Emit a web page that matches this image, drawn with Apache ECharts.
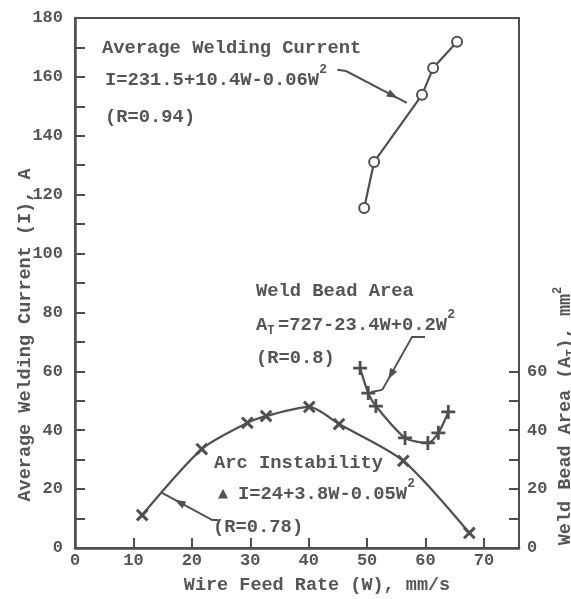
<!DOCTYPE html>
<html><head><meta charset="utf-8">
<script src="https://cdn.jsdelivr.net/npm/echarts@6/dist/echarts.min.js"></script>
<style>html,body{margin:0;padding:0;background:#fff}#c{width:571px;height:599px}</style>
</head><body><div id="c"></div>
<script>
// ---- data ----
const currentW = [49.5, 51.2, 59.4, 61.3, 65.4];
const currentI = [115.5, 131.1, 153.9, 163.0, 171.9];
const areaW = [48.8, 50.2, 51.5, 56.5, 60.4, 62.2, 63.9];
const areaA = [61.1, 52.6, 48.2, 37.4, 35.7, 39.1, 46.2];
const arcW = [11.5, 21.7, 29.5, 32.7, 40.1, 45.2, 56.2, 67.5];
const arcI = [11.2, 33.6, 42.5, 44.8, 47.9, 42.1, 29.6, 5.1];
const xLabels = [0, 10, 20, 30, 40, 50, 60, 70];
const xTickVals = [10, 20, 30, 40, 50, 60, 70];
const leftLabels = [0, 20, 40, 60, 80, 100, 120, 140, 160, 180];
const leftTickVals = [10, 20, 30, 40, 50, 60, 70, 80, 90, 100, 110, 120, 130, 140, 150, 160, 170];
const rightLabels = [0, 20, 40, 60];
const rightTickVals = [10, 20, 30, 40, 50, 60];
// annotation leader lines (data coords, left axis)
const arrowCurrent = [[44.9, 162.4], [46.4, 162.0], [56.8, 151.2]];
const arrowArea = [[59.9, 71.7], [57.7, 71.7], [52.6, 53.7], [50.7, 53.0]];
const arrowArc = [[24.5, 9.5], [23.5, 9.5], [14.9, 18.7]];

const INK = '#4f4f4f';
const TXT = '#555555';
const FONT = '"Liberation Mono", "DejaVu Sans Mono", monospace';
const PLUS = 'path://M-1,-5H1V-1H5V1H1V5H-1V1H-5V-1H-1Z';

const zip = (a, b) => a.map((v, i) => [v, b[i]]);
const chart = echarts.init(document.getElementById('c'));

const labelStyle = {color: TXT, fontFamily: FONT, fontWeight: 'bold', fontSize: 17};
const nameStyle = {color: TXT, fontFamily: FONT, fontWeight: 'bold', fontSize: 18.5};

chart.setOption({
  animation: false,
  backgroundColor: '#fff',
  grid: {left: 75, right: 52, top: 18, bottom: 51, outerBoundsMode: 'none', containLabel: false,
    show: true, borderColor: INK, borderWidth: 2, backgroundColor: 'transparent'},
  xAxis: {
    type: 'value', min: 0, max: 76, interval: 10,
    name: 'Wire Feed Rate (W), mm/s', nameLocation: 'middle', nameGap: 28, nameMoveOverlap: false,
    nameTextStyle: Object.assign({padding: [0, 0, 0, 40]}, nameStyle),
    axisLine: {show: true, lineStyle: {color: INK, width: 2.5}},
    axisTick: {show: true, inside: true, length: 10, customValues: xTickVals, lineStyle: {color: INK, width: 2}},
    axisLabel: Object.assign({margin: 4, customValues: xLabels}, labelStyle),
    splitLine: {show: false}
  },
  yAxis: [{
    type: 'value', min: 0, max: 180, interval: 10, position: 'left',
    name: 'Average Welding Current (I), A', nameLocation: 'middle', nameRotate: 90, nameGap: 40, nameMoveOverlap: false,
    nameTextStyle: Object.assign({padding: [0, 104, 0, 0]}, nameStyle),
    axisLine: {show: true, lineStyle: {color: INK, width: 2.5}},
    axisTick: {show: true, inside: true, length: 10, customValues: leftTickVals, lineStyle: {color: INK, width: 2}},
    axisLabel: Object.assign({margin: 12, customValues: leftLabels}, labelStyle),
    splitLine: {show: false}
  }, {
    type: 'value', min: 0, max: 180, interval: 10, position: 'right',
    name: '{a|Weld Bead Area (A}{s|T}{a|), mm}{p|2}', nameLocation: 'middle', nameRotate: 90, nameGap: 33, nameMoveOverlap: false,
    nameTextStyle: Object.assign({padding: [0, 266, 0, 0], rich: {
      a: {color: TXT, fontFamily: FONT, fontWeight: 'bold', fontSize: 18.5, lineHeight: 26},
      s: {color: TXT, fontFamily: FONT, fontWeight: 'bold', fontSize: 12, lineHeight: 14, verticalAlign: 'bottom'},
      p: {color: TXT, fontFamily: FONT, fontWeight: 'bold', fontSize: 12, lineHeight: 14, verticalAlign: 'top'}
    }}, nameStyle),
    axisLine: {show: true, lineStyle: {color: INK, width: 2}},
    axisTick: {show: true, inside: true, length: 10, customValues: rightTickVals, lineStyle: {color: INK, width: 2}},
    axisLabel: Object.assign({margin: 8, customValues: rightLabels}, labelStyle),
    splitLine: {show: false}
  }],
  series: [{
    name: 'Average Welding Current', type: 'line', yAxisIndex: 0,
    data: zip(currentW, currentI),
    symbol: 'emptyCircle', symbolSize: 10,
    lineStyle: {color: INK, width: 2.2},
    itemStyle: {color: INK, borderColor: INK, borderWidth: 2.5}
  }, {
    name: 'Weld Bead Area', type: 'line', yAxisIndex: 1, smooth: 0.25,
    data: zip(areaW, areaA),
    symbol: PLUS, symbolSize: 14,
    lineStyle: {color: INK, width: 2.2},
    itemStyle: {color: INK}
  }, {
    name: 'Arc Instability', type: 'line', yAxisIndex: 0, smooth: 0.25,
    data: zip(arcW, arcI),
    symbol: PLUS, symbolSize: 15, symbolRotate: 45,
    lineStyle: {color: INK, width: 2.2},
    itemStyle: {color: INK}
  }]
});

// ---- annotations ----
const CW = 18.8 * 0.6;
function txt(x, y, s, size) {
  return {type: 'text', x: x, y: y, z: 100, silent: true,
    style: {text: s, fill: TXT, font: 'bold ' + (size || 18.8) + 'px ' + FONT, align: 'left', verticalAlign: 'middle'}};
}
const g = [];
g.push(txt(102, 48, 'Average Welding Current'));
g.push(txt(105, 80, 'I=231.5+10.4W-0.06W'));
g.push(txt(105 + 19 * CW, 70, '2', 13));
g.push(txt(105, 117, '(R=0.94)'));
g.push(txt(256, 291, 'Weld Bead Area'));
g.push(txt(256, 325, 'A'));
g.push(txt(256 + CW, 331, 'T', 12));
g.push(txt(278, 325, '=727-23.4W+0.2W'));
g.push(txt(278 + 15 * CW, 315, '2', 13));
g.push(txt(256, 358, '(R=0.8)'));
g.push(txt(214, 463, 'Arc Instability'));
g.push({type: 'text', x: 218, y: 494, z: 100, style: {text: '\u25B2', fill: TXT, font: '13px "DejaVu Sans"', align: 'left', verticalAlign: 'middle'}});
g.push(txt(238, 494, 'I=24+3.8W-0.05W'));
g.push(txt(238 + 15 * CW, 484, '2', 13));
g.push(txt(213, 527, '(R=0.78)'));

function arrow(pts, frac) {
  const p = pts.map(d => chart.convertToPixel({xAxisIndex: 0, yAxisIndex: 0}, d));
  g.push({type: 'polyline', z: 90, silent: true, shape: {points: p}, style: {stroke: INK, lineWidth: 2, fill: null}});
  const a = p[p.length - 2], b = p[p.length - 1];
  const hx = a[0] + (b[0] - a[0]) * frac, hy = a[1] + (b[1] - a[1]) * frac;
  const ang = Math.atan2(b[1] - a[1], b[0] - a[0]);
  const L = 11, W = 4;
  const bx = hx - L * Math.cos(ang), by = hy - L * Math.sin(ang);
  g.push({type: 'polygon', z: 91, silent: true, shape: {points: [
    [hx, hy],
    [bx + W * Math.sin(ang), by - W * Math.cos(ang)],
    [bx - W * Math.sin(ang), by + W * Math.cos(ang)]
  ]}, style: {fill: INK}});
}
arrow(arrowCurrent, 0.85);
arrow([arrowArea[0], arrowArea[1], arrowArea[2]], 0.8);
g.push({type: 'polyline', z: 90, silent: true, shape: {points: [arrowArea[2], arrowArea[3]].map(d => chart.convertToPixel({xAxisIndex: 0, yAxisIndex: 0}, d))}, style: {stroke: INK, lineWidth: 2, fill: null}});
arrow(arrowArc, 0.75);
chart.setOption({graphic: g});
</script></body></html>
